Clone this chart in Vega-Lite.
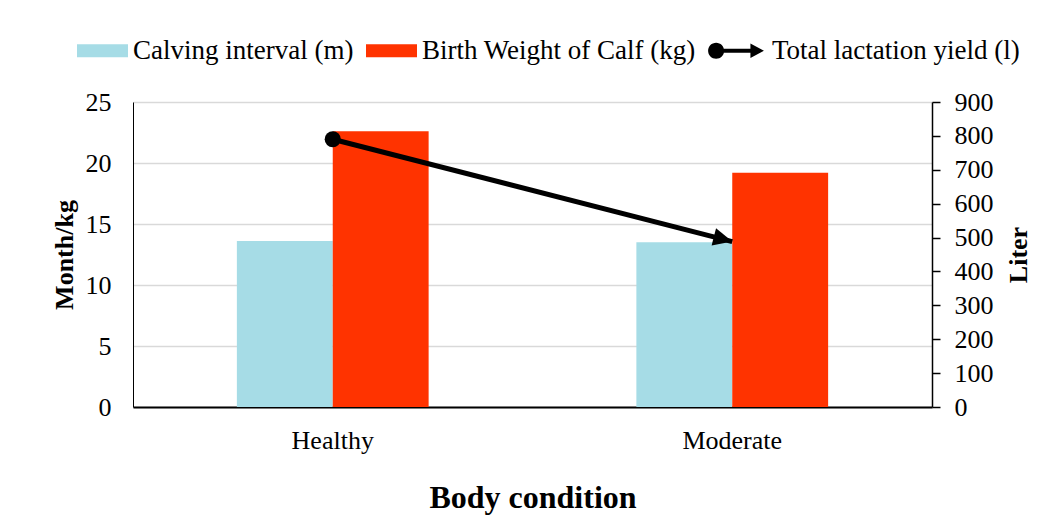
{
  "$schema": "https://vega.github.io/schema/vega-lite/v6.json",
  "width": 799,
  "height": 305,
  "autosize": {"type": "none"},
  "padding": {"left": 133, "top": 102, "right": 122, "bottom": 115},
  "background": "white",
  "config": {
    "font": "Liberation Serif",
    "view": {"stroke": null},
    "axis": {"labelColor": "black", "titleColor": "black", "labelFont": "Liberation Serif", "titleFont": "Liberation Serif"}
  },
  "datasets": {
    "bars": [
      {"condition": "Healthy", "series": "Calving interval (m)", "value": 13.6},
      {"condition": "Healthy", "series": "Birth Weight of Calf (kg)", "value": 22.6},
      {"condition": "Moderate", "series": "Calving interval (m)", "value": 13.5},
      {"condition": "Moderate", "series": "Birth Weight of Calf (kg)", "value": 19.2}
    ],
    "yield": [
      {"condition": "Healthy", "series": "Total lactation yield (l)", "value": 790},
      {"condition": "Moderate", "series": "Total lactation yield (l)", "value": 488}
    ]
  },
  "layer": [
    {
      "data": {"name": "bars"},
      "mark": {"type": "bar"},
      "encoding": {
        "x": {
          "field": "condition", "type": "nominal", "sort": ["Healthy", "Moderate"],
          "scale": {"paddingInner": 0.52, "paddingOuter": 0.26},
          "axis": {
            "title": "Body condition", "titleFontSize": 32, "titleFontWeight": "bold", "titlePadding": 29,
            "labelFontSize": 26, "labelPadding": 20, "labelAngle": 0, "ticks": false,
            "domainColor": "black", "domainWidth": 2, "grid": false
          }
        },
        "xOffset": {"field": "series", "type": "nominal", "sort": ["Calving interval (m)", "Birth Weight of Calf (kg)"], "scale": {"paddingInner": 0, "paddingOuter": 0}},
        "y": {
          "field": "value", "type": "quantitative",
          "scale": {"domain": [0, 25], "nice": false},
          "axis": {
            "title": "Month/kg", "titleFontSize": 26, "titleFontWeight": "bold", "titlePadding": 8,
            "values": [0, 5, 10, 15, 20, 25], "labelFontSize": 26, "labelPadding": 22, "ticks": false,
            "domainColor": "black", "domainWidth": 1,
            "grid": true, "gridColor": "#d9d9d9", "gridWidth": 1.5
          }
        },
        "color": {
          "field": "series", "type": "nominal",
          "scale": {
            "domain": ["Calving interval (m)", "Birth Weight of Calf (kg)", "Total lactation yield (l)"],
            "range": ["#a6dce6", "#ff3300", "#000000"]
          },
          "legend": {
            "title": null, "orient": "none", "direction": "horizontal", "legendX": -56, "legendY": -77,
            "labelFontSize": 27, "labelFont": "Liberation Serif", "labelColor": "black", "labelLimit": 0,
            "labelOffset": 5, "columnPadding": 12, "padding": 0, "symbolSize": 2601,
            "symbolType": "M-1,-0.255H1V0.255H-1Z",
            "encode": {
              "symbols": {
                "update": {
                  "shape": {"signal": "datum.value === 'Total lactation yield (l)' ? 'M-1.31,0A0.315,0.315 0 1,1 -0.68,0A0.315,0.315 0 1,1 -1.31,0ZM-0.7,-0.08H0.4V0.08H-0.7ZM0.35,-0.28L0.88,0L0.35,0.28Z' : 'M-1,-0.255H1V0.255H-1Z'"},
                  "fill": {"signal": "scale('color', datum.value)"},
                  "stroke": {"signal": "scale('color', datum.value)"},
                  "strokeWidth": {"value": 0},
                  "opacity": {"value": 1}
                }
              }
            }
          }
        }
      }
    },
    {
      "data": {"name": "yield"},
      "encoding": {
        "x": {"field": "condition", "type": "nominal", "sort": ["Healthy", "Moderate"]},
        "y": {
          "field": "value", "type": "quantitative",
          "scale": {"domain": [0, 900], "nice": false},
          "axis": {
            "orient": "right", "title": "Liter", "titleFontSize": 26, "titleFontWeight": "bold", "titlePadding": 12, "titleAngle": 270, "titleBaseline": "top",
            "values": [0, 100, 200, 300, 400, 500, 600, 700, 800, 900],
            "labelFontSize": 26, "labelPadding": 14, "ticks": true, "tickSize": 8, "tickColor": "black", "tickWidth": 1.5,
            "domainColor": "black", "domainWidth": 1.5, "grid": false
          }
        },
        "color": {"field": "series", "type": "nominal", "legend": null}
      },
      "layer": [
        {"mark": {"type": "line", "strokeWidth": 5}},
        {
          "transform": [{"filter": "datum.condition === 'Healthy'"}],
          "mark": {"type": "point", "filled": true, "opacity": 1, "size": 260, "shape": "circle"}
        },
        {
          "transform": [{"filter": "datum.condition === 'Moderate'"}],
          "mark": {"type": "point", "filled": true, "opacity": 1, "size": 1444, "angle": 14.3, "shape": "M0,0L-1,-0.47L-1,0.47Z"}
        }
      ]
    }
  ],
  "resolve": {"scale": {"y": "independent"}}
}
